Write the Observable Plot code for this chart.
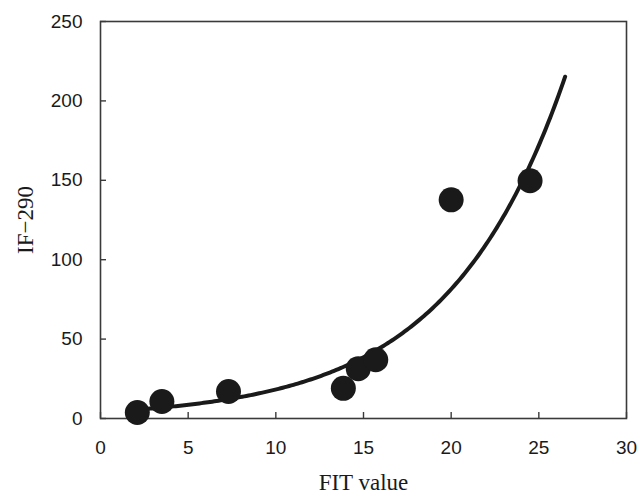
<!DOCTYPE html>
<html>
<head>
<meta charset="utf-8">
<script src="https://cdn.jsdelivr.net/npm/d3@7"></script>
<script src="https://cdn.jsdelivr.net/npm/@observablehq/plot@0.6"></script>
<style>
  html, body { margin: 0; padding: 0; background: #fff; }
  #chart { width: 640px; height: 495px; }
</style>
</head>
<body>
<div id="chart"></div>
<script>
// Data
const fitValue = [2.1, 3.5, 7.3, 13.85, 14.7, 15.7, 20.0, 24.5];
const if290    = [3.8, 10.7, 17, 19, 31.4, 37, 137.7, 149.7];
const xTicks = [0, 5, 10, 15, 20, 25, 30];
const yTicks = [0, 50, 100, 150, 200, 250];
const xTitle = "FIT value";
const yTitle = "IF−290";
const trendEnd = 26.5; // trendline extends (forecast) to here

const points = fitValue.map((x, i) => ({x, y: if290[i]}));

// Exponential trendline (least squares on ln y), as a spreadsheet would compute
const mx = d3.mean(points, d => d.x);
const my = d3.mean(points, d => Math.log(d.y));
const b = d3.sum(points, d => (d.x - mx) * (Math.log(d.y) - my)) /
          d3.sum(points, d => (d.x - mx) ** 2);
const a = Math.exp(my - b * mx);
const x0 = d3.min(fitValue);
const curve = d3.range(0, 201).map(i => {
  const x = x0 + (trendEnd - x0) * i / 200;
  return {x, y: a * Math.exp(b * x)};
});

const W = 640, H = 495, ML = 100, MR = 14, MT = 21, MB = 77, TICK = 6;
const sans = "'Liberation Sans', Arial, sans-serif";
const serif = "'Liberation Serif', 'Times New Roman', serif";

const chart = Plot.plot({
  width: W,
  height: H,
  marginLeft: ML,
  marginRight: MR,
  marginTop: MT,
  marginBottom: MB,
  style: {background: "#fff", color: "#222"},
  x: {domain: [0, 30]},
  y: {domain: [0, 250]},
  marks: [
    // inward tick marks
    Plot.tickX(xTicks, {x: d => d, insetTop: (H - MT - MB) - TICK, stroke: "#3a3a3a", strokeWidth: 1.4}),
    Plot.tickY(yTicks, {y: d => d, insetRight: (W - ML - MR) - TICK, stroke: "#3a3a3a", strokeWidth: 1.4}),
    Plot.frame({stroke: "#3a3a3a", strokeWidth: 1.6}),
    // tick labels
    Plot.axisX(xTicks, {tickSize: 0, tickPadding: 22, label: null, fontSize: 19, fontFamily: sans, fill: "#1a1a1a"}),
    Plot.axisY(yTicks, {tickSize: 0, tickPadding: 18, label: null, fontSize: 19, fontFamily: sans, fill: "#1a1a1a"}),
    // fit curve
    Plot.line(curve, {x: "x", y: "y", stroke: "#1a1a1a", strokeWidth: 4, strokeLinecap: "round"}),
    // points
    Plot.dot(points, {x: "x", y: "y", r: 12.5, fill: "#1a1a1a", stroke: "none"}),
    // axis titles
    Plot.text([xTitle], {frameAnchor: "bottom", dy: 71, lineAnchor: "bottom", text: d => d, fontSize: 23, fontFamily: serif, fill: "#1a1a1a"}),
    Plot.text([yTitle], {frameAnchor: "left", dx: -75, rotate: -90, textAnchor: "middle", lineAnchor: "middle", text: d => d, fontSize: 23, fontFamily: serif, fill: "#1a1a1a"})
  ]
});
document.getElementById("chart").appendChild(chart);
</script>
</body>
</html>
